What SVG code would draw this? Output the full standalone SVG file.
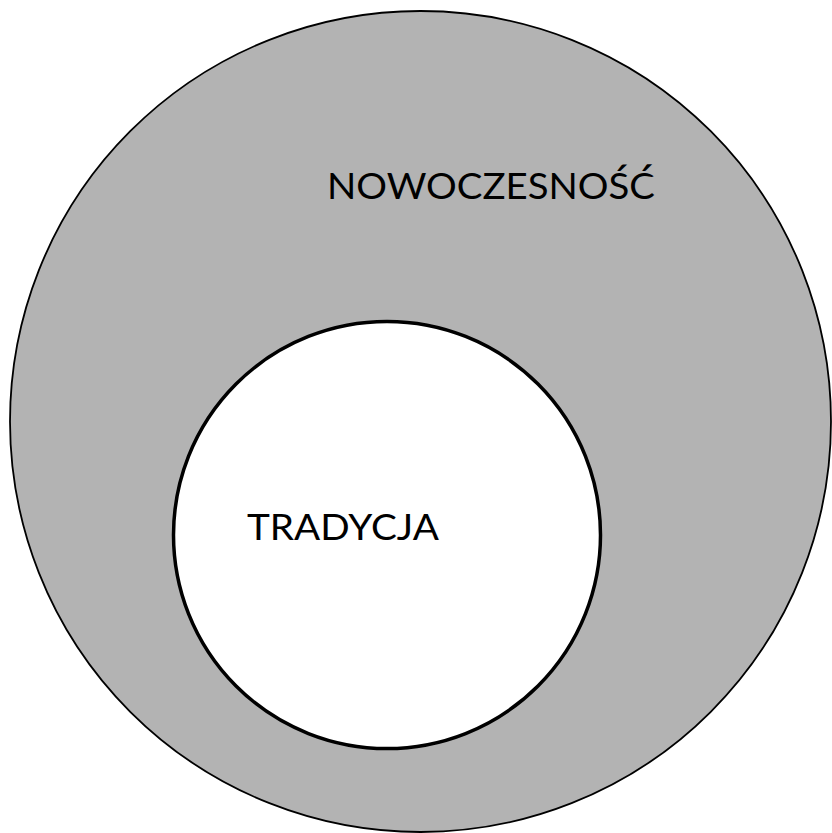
<svg xmlns="http://www.w3.org/2000/svg" width="832" height="833" viewBox="0 0 832 833">
<style>
.lbl{font-family:"Lato","Open Sans","Liberation Sans",sans-serif;font-size:37px;fill:#000}
</style>
<rect width="832" height="833" fill="#fff"/>
<g id="nowoczesnosc">
<circle cx="420.5" cy="421.5" r="410.5" fill="#b3b3b3" stroke="#000" stroke-width="1.8"/>
<text class="lbl" x="327" y="199" textLength="328" lengthAdjust="spacingAndGlyphs">NOWOCZESNOŚĆ</text>
</g>
<g id="tradycja">
<circle cx="387" cy="535" r="213.5" fill="#fff" stroke="#000" stroke-width="3.5"/>
<text class="lbl" x="247" y="540" textLength="192" lengthAdjust="spacingAndGlyphs">TRADYCJA</text>
</g>
<g id="connectors"/>
</svg>
